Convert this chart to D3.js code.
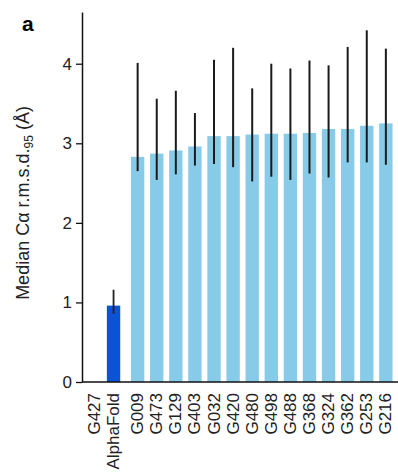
<!DOCTYPE html>
<html>
<head>
<meta charset="utf-8">
<script src="https://cdn.jsdelivr.net/npm/d3@7"></script>
<style>
  body { margin: 0; background: #fff; }
  svg { font-family: "Liberation Sans", Arial, sans-serif; }
</style>
</head>
<body>
<svg width="398" height="473"></svg>
<script>
// reference model
const refName = "AlphaFold";
const refTarget = "G427";
const refValue = 0.96;
const refErr = [0.86, 1.16];

// groups, median values and error ranges (low, high)
const groups = ["G009", "G473", "G129", "G403", "G032", "G420", "G480", "G498", "G488", "G368", "G324", "G362", "G253", "G216"];
const medians = [2.83, 2.87, 2.91, 2.96, 3.09, 3.09, 3.11, 3.12, 3.12, 3.13, 3.18, 3.18, 3.22, 3.25];
const errLow  = [2.65, 2.54, 2.61, 2.72, 2.74, 2.70, 2.52, 2.58, 2.54, 2.62, 2.57, 2.76, 2.76, 2.73];
const errHigh = [4.01, 3.56, 3.66, 3.38, 4.05, 4.20, 3.69, 4.00, 3.94, 4.04, 3.98, 4.21, 4.42, 4.19];
const yTicks = [0, 1, 2, 3, 4];

const svg = d3.select("svg");
const axisX = 82, baseY = 382;

const y = d3.scaleLinear().domain([0, 4.65]).range([baseY, 12]);
const x = d3.scaleBand().domain(groups).range([130, 393.5]).paddingInner(0.3).paddingOuter(0.05);
const refX = x(groups[0]) - x.step() - 5;  // AlphaFold bar sits a little apart

// y axis
const yAxis = svg.append("g")
    .attr("transform", `translate(${axisX},0)`)
    .call(d3.axisLeft(y).tickValues(yTicks).tickFormat(d3.format("d"))
      .tickSize(6).tickSizeOuter(0).tickPadding(4));
yAxis.select(".domain").attr("stroke", "#111").attr("stroke-width", 1.5);
yAxis.selectAll(".tick line").attr("stroke", "#111").attr("stroke-width", 1.3);
yAxis.selectAll(".tick text").attr("font-size", 17).attr("fill", "#222")
    .attr("font-family", "Liberation Sans, Arial, sans-serif");

// bars
svg.append("rect")
    .attr("x", refX).attr("width", x.bandwidth())
    .attr("y", y(refValue)).attr("height", baseY - y(refValue))
    .attr("fill", "#0a52d6");

svg.selectAll(".bar")
  .data(groups)
  .enter().append("rect")
    .attr("class", "bar")
    .attr("x", d => x(d))
    .attr("width", x.bandwidth())
    .attr("y", (d, i) => y(medians[i]))
    .attr("height", (d, i) => baseY - y(medians[i]))
    .attr("fill", "#88cbe9");

// error bars
svg.append("line")
    .attr("x1", refX + x.bandwidth() / 2).attr("x2", refX + x.bandwidth() / 2)
    .attr("y1", y(refErr[0])).attr("y2", y(refErr[1]))
    .attr("stroke", "#222").attr("stroke-width", 1.8);

svg.selectAll(".err")
  .data(groups)
  .enter().append("line")
    .attr("class", "err")
    .attr("x1", d => x(d) + x.bandwidth() / 2)
    .attr("x2", d => x(d) + x.bandwidth() / 2)
    .attr("y1", (d, i) => y(errLow[i]))
    .attr("y2", (d, i) => y(errHigh[i]))
    .attr("stroke", "#1a1a1a").attr("stroke-width", 2);

// x axis line
svg.append("line")
    .attr("x1", axisX).attr("x2", 398)
    .attr("y1", baseY).attr("y2", baseY)
    .attr("stroke", "#111").attr("stroke-width", 1.5);

// x labels, rotated
const labels = svg.append("g").attr("font-size", 17).attr("fill", "#222");
groups.forEach(g => {
  labels.append("text")
    .attr("transform", `translate(${x(g) + x.bandwidth() / 2 + 5.5},${baseY + 11}) rotate(-90)`)
    .attr("text-anchor", "end")
    .text(g);
});
const refLabel = labels.append("text")
    .attr("transform", `translate(${refX + x.bandwidth() / 2 + 5.5},${baseY + 11}) rotate(-90)`)
    .attr("text-anchor", "end");
refLabel.append("tspan").attr("x", 0).attr("dy", -19).text(refTarget);
refLabel.append("tspan").attr("x", 0).attr("dy", 19).text(refName);

// y title
const title = svg.append("text")
    .attr("transform", `translate(29,${y(2.25)}) rotate(-90)`)
    .attr("text-anchor", "middle")
    .attr("font-size", 18).attr("fill", "#222");
title.append("tspan").text("Median Cα r.m.s.d.");
title.append("tspan").attr("font-size", 12).attr("dy", 4).text("95");
title.append("tspan").attr("dy", -4).text(" (Å)");

// panel letter
svg.append("text")
    .attr("x", 22).attr("y", 31)
    .attr("font-size", 21).attr("font-weight", "bold")
    .text("a");
</script>
</body>
</html>
